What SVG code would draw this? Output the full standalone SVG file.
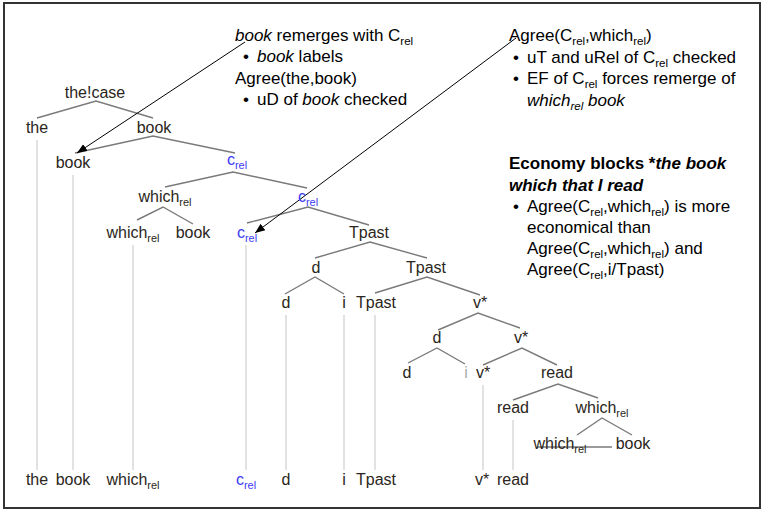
<svg xmlns="http://www.w3.org/2000/svg" width="763" height="511" viewBox="0 0 763 511">
<defs>
<marker id="ah" viewBox="0 0 10 10" refX="10" refY="5" markerWidth="10" markerHeight="10" markerUnits="userSpaceOnUse" orient="auto">
<path d="M0,1 L10,5 L0,9 Z" fill="#000"/>
</marker>
</defs>
<style>
text{font-family:"Liberation Sans",Arial,Helvetica,sans-serif;font-size:16px;fill:#000}
.n{text-anchor:middle;fill:#2a2620}
.b{fill:#3b3bf5}
.f{fill:#aaa}
.s{font-size:11px}
.nt text{font-size:17px}
.nt .s{font-size:11.5px}
.br{stroke:#7a7a7a;stroke-width:1.4;fill:none}
.v{stroke:#e2e2e2;stroke-width:2;fill:none}
.ar{stroke:#000;stroke-width:1;fill:none;marker-end:url(#ah)}
.i{font-style:italic}
.bd{font-weight:bold}
</style>
<rect x="4" y="3" width="756" height="505" fill="#fff" stroke="#333" stroke-width="2"/>
<g id="connectors">
<g class="v">
<line x1="37" y1="140" x2="37" y2="470"/>
<line x1="73" y1="175" x2="73" y2="470"/>
<line x1="133" y1="245" x2="133" y2="470"/>
<line x1="246" y1="245" x2="246" y2="470"/>
<line x1="286" y1="315" x2="286" y2="470"/>
<line x1="344" y1="315" x2="344" y2="470"/>
<line x1="375" y1="315" x2="375" y2="470"/>
<line x1="483" y1="385" x2="483" y2="470"/>
<line x1="513" y1="420" x2="513" y2="470"/>
</g>
<g class="br">
<polyline points="37,118 96,101 153,118"/>
<polyline points="75,153 153,136 235,153"/>
<polyline points="165,187 233,172 307,188"/>
<polyline points="137,220 163,207 193,224"/>
<polyline points="247,223 308,207 369,225"/>
<polyline points="315,258 370,242 427,258"/>
<polyline points="285,294 315,277 344,294"/>
<polyline points="375,293 427,277 480,295"/>
<polyline points="438,330 478,313 520,328"/>
<polyline points="408,363 437,348 465,364"/>
<polyline points="483,365 522,348 557,365"/>
<polyline points="513,400 558,384 598,398"/>
<polyline points="577,435 602,418 632,435"/>
<line x1="537" y1="447" x2="612" y2="447"/>
</g>
<line class="ar" x1="245" y1="42" x2="77" y2="153"/>
<line class="ar" x1="516" y1="38" x2="255" y2="233"/>
</g>
<g id="n-thecase"><text class="n" x="95" y="98">the!case</text></g>
<g id="n-the"><text class="n" x="37" y="133">the</text></g>
<g id="n-book1"><text class="n" x="154" y="133">book</text></g>
<g id="n-book2"><text class="n" x="73" y="168">book</text></g>
<g id="n-crel1"><text class="n b" x="237" y="165">c<tspan class="s" dy="4">rel</tspan></text></g>
<g id="n-which1"><text class="n" x="165" y="202">which<tspan class="s" dy="4">rel</tspan></text></g>
<g id="n-crel2"><text class="n b" x="308" y="202">c<tspan class="s" dy="4">rel</tspan></text></g>
<g id="n-which2"><text class="n" x="133" y="238">which<tspan class="s" dy="4">rel</tspan></text></g>
<g id="n-book3"><text class="n" x="193" y="238">book</text></g>
<g id="n-crel3"><text class="n b" x="247" y="238">c<tspan class="s" dy="4">rel</tspan></text></g>
<g id="n-tpast1"><text class="n" x="369" y="238">Tpast</text></g>
<g id="n-d1"><text class="n" x="316" y="273">d</text></g>
<g id="n-tpast2"><text class="n" x="426" y="273">Tpast</text></g>
<g id="n-d2"><text class="n" x="286" y="308">d</text></g>
<g id="n-i1"><text class="n" x="344" y="308">i</text></g>
<g id="n-tpast3"><text class="n" x="376" y="308">Tpast</text></g>
<g id="n-v1"><text class="n" x="480" y="308">v*</text></g>
<g id="n-d3"><text class="n" x="437" y="343">d</text></g>
<g id="n-v2"><text class="n" x="521" y="343">v*</text></g>
<g id="n-d4"><text class="n" x="407" y="378">d</text></g>
<g id="n-i2"><text class="n f" x="466" y="378">i</text></g>
<g id="n-v3"><text class="n" x="483" y="378">v*</text></g>
<g id="n-read1"><text class="n" x="557" y="378">read</text></g>
<g id="n-read2"><text class="n" x="513" y="413">read</text></g>
<g id="n-which3"><text class="n" x="602" y="413">which<tspan class="s" dy="4">rel</tspan></text></g>
<g id="n-which4"><text class="n" x="560" y="449">which<tspan class="s" dy="4">rel</tspan></text></g>
<g id="n-book4"><text class="n" x="633" y="449">book</text></g>
<g id="leaves">
<text class="n" x="37" y="485">the</text>
<text class="n" x="73" y="485">book</text>
<text class="n" x="133" y="485">which<tspan class="s" dy="4">rel</tspan></text>
<text class="n b" x="246" y="485">c<tspan class="s" dy="4">rel</tspan></text>
<text class="n" x="286" y="485">d</text>
<text class="n" x="344" y="485">i</text>
<text class="n" x="376" y="485">Tpast</text>
<text class="n" x="482" y="485">v*</text>
<text class="n" x="513" y="485">read</text>
</g>
<g id="note1" class="nt">
<text x="235" y="41"><tspan class="i">book</tspan> remerges with C<tspan class="s" dy="4">rel</tspan></text>
<text x="243" y="62">•</text>
<text x="257" y="62"><tspan class="i">book</tspan> labels</text>
<text x="235" y="84">Agree(the,book)</text>
<text x="243" y="105">•</text>
<text x="257" y="105">uD of <tspan class="i">book</tspan> checked</text>
</g>
<g id="note2" class="nt">
<text x="509" y="41">Agree(C<tspan class="s" dy="4">rel</tspan><tspan dy="-4">,which</tspan><tspan class="s" dy="4">rel</tspan><tspan dy="-4">)</tspan></text>
<text x="513" y="63">•</text>
<text x="527" y="63">uT and uRel of C<tspan class="s" dy="4">rel</tspan><tspan dy="-4"> checked</tspan></text>
<text x="513" y="84">•</text>
<text x="527" y="84">EF of C<tspan class="s" dy="4">rel</tspan><tspan dy="-4"> forces remerge of</tspan></text>
<text x="527" y="106" class="i">which<tspan class="s" dy="4">rel</tspan><tspan dy="-4"> book</tspan></text>
</g>
<g id="note3" class="nt">
<text x="509" y="169" class="bd">Economy blocks *<tspan class="i">the book</tspan></text>
<text x="509" y="191" class="bd i">which that I read</text>
<text x="513" y="212">•</text>
<text x="527" y="212">Agree(C<tspan class="s" dy="4">rel</tspan><tspan dy="-4">,which</tspan><tspan class="s" dy="4">rel</tspan><tspan dy="-4">) is more</tspan></text>
<text x="527" y="233">economical than</text>
<text x="527" y="254">Agree(C<tspan class="s" dy="4">rel</tspan><tspan dy="-4">,which</tspan><tspan class="s" dy="4">rel</tspan><tspan dy="-4">) and</tspan></text>
<text x="527" y="275">Agree(C<tspan class="s" dy="4">rel</tspan><tspan dy="-4">,i/Tpast)</tspan></text>
</g>
</svg>
